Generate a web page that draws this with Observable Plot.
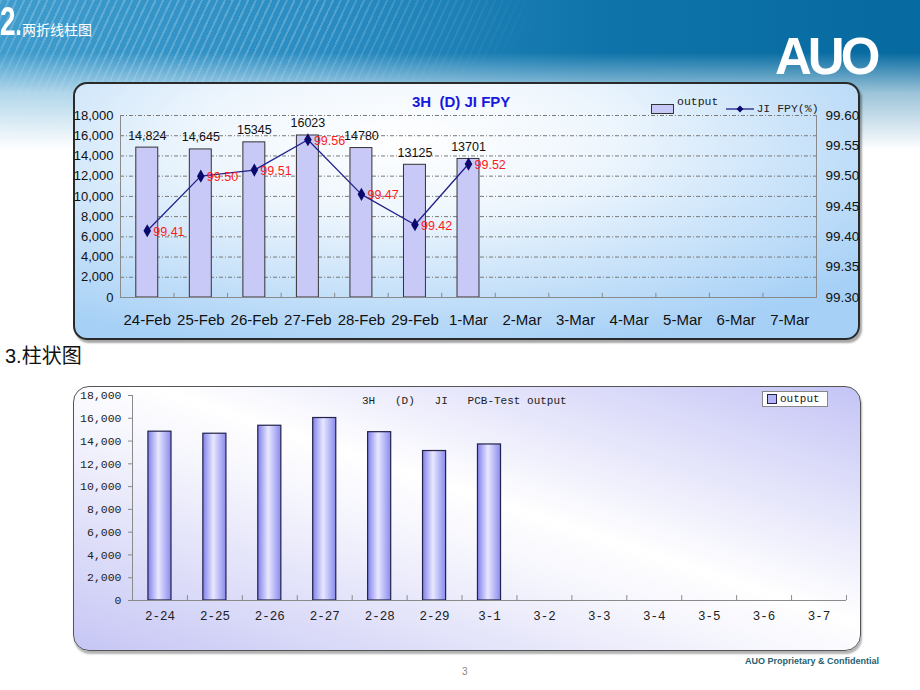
<!DOCTYPE html>
<html><head><meta charset="utf-8">
<script src="https://cdn.jsdelivr.net/npm/d3@7"></script>
<script src="https://cdn.jsdelivr.net/npm/@observablehq/plot@0.6"></script>
<style>
html,body{margin:0;padding:0;}
body{width:920px;height:690px;position:relative;overflow:hidden;background:#fff;font-family:"Liberation Sans",Arial,sans-serif;}
.abs{position:absolute;}
svg{overflow:visible;}
#header{left:0;top:0;width:920px;height:150px;
 background:linear-gradient(180deg,rgba(255,255,255,0) 0%,rgba(255,255,255,0) 35%,rgba(255,255,255,0.6) 62%,#fff 100%),
 linear-gradient(90deg,#3f9ccd 0%,#2a8cc2 35%,#0f74aa 65%,#066aa0 100%);}
#stripes{left:0;top:0;width:700px;height:150px;
 background:repeating-linear-gradient(115deg,rgba(255,255,255,0.2) 0 2px,rgba(255,255,255,0) 2px 7px);
 -webkit-mask-image:radial-gradient(ellipse 70% 90% at 25% 10%,#000 30%,transparent 75%);
 mask-image:radial-gradient(ellipse 70% 90% at 25% 10%,#000 30%,transparent 75%);}
#panel1{left:73px;top:82px;width:783px;height:254px;border:2px solid #2a2a2a;border-radius:14px;
 background:radial-gradient(ellipse 75% 85% at 42% 22%,#ffffff 0%,#eef6fd 35%,#a6d0f6 100%);
 box-shadow:2px 3px 2px rgba(0,0,0,0.35);}
#panel2{left:73px;top:386px;width:786px;height:263px;border:1.5px solid #555;border-radius:16px;
 background:linear-gradient(to top right,#c6c6f5 0%,#f4f4fd 42%,#ffffff 55%,#c4c4f6 100%);
 box-shadow:1px 3px 2px rgba(0,0,0,0.3);}
#chart1{left:73px;top:82px;}
#chart2{left:73px;top:386px;}
.mono{font-family:"Liberation Mono","DejaVu Sans Mono",monospace;}
</style></head>
<body>
<div id="header" class="abs"></div>
<div id="stripes" class="abs"></div>
<div class="abs" style="left:0;top:1px;color:#fff;font-weight:bold;font-size:40px;line-height:40px;transform:scaleX(0.7);transform-origin:0 0;">2<span style="font-size:32px;">.</span></div>
<div class="abs" style="left:22px;top:20px;color:#fff;font-size:14px;font-family:'Noto Sans CJK SC';line-height:18px;">两折线柱图</div>
<div class="abs" style="left:775px;top:29px;color:#fff;font-weight:bold;font-size:51px;letter-spacing:-4px;line-height:56px;">AUO</div>
<div id="panel1" class="abs"></div>
<div id="panel2" class="abs"></div>
<div id="chart1" class="abs"></div>
<div id="chart2" class="abs"></div>
<div class="abs" style="left:412px;top:93px;color:#1818e0;font-weight:bold;font-size:15px;white-space:pre;line-height:18px;">3H  (D) JI FPY</div>
<div class="abs mono" style="left:651px;top:95px;font-size:11.5px;color:#222;line-height:14px;white-space:pre;display:flex;align-items:center;">
 <span style="display:inline-block;width:21px;height:8px;background:#c9c9f7;border:1px solid #333;margin-right:3px;"></span>output
 <svg width="28" height="10" style="margin-left:8px;margin-right:2px"><line x1="0" y1="5" x2="28" y2="5" stroke="#20208a" stroke-width="1.3"/><path d="M14 1.5 L17.5 5 L14 8.5 L10.5 5Z" fill="#0a0a6e"/></svg>JI FPY(%)
</div>
<div class="abs" style="left:5px;top:342px;font-size:20px;color:#111;line-height:26px;">3.<span style="font-family:'Noto Sans CJK SC';">柱状图</span></div>
<div class="abs mono" style="left:362px;top:394px;font-size:11px;color:#222;white-space:pre;line-height:14px;">3H   (D)   JI   PCB-Test output</div>
<div class="abs mono" style="left:762px;top:391px;width:64px;height:14px;background:#fff;border:1px solid #888;font-size:11px;color:#222;line-height:14px;display:flex;align-items:center;">
 <span style="display:inline-block;width:8px;height:8px;background:#b4b4f6;border:1.3px solid #22224a;margin:0 3px 0 4px;"></span>output
</div>
<div class="abs" style="left:462px;top:666px;font-size:10px;color:#888;">3</div>
<div class="abs" style="left:745px;top:656px;font-size:9px;font-weight:bold;color:#1f5f73;white-space:nowrap;">AUO Proprietary &amp; Confidential</div>
<script>
// ---- data ----
const dates = ["24-Feb","25-Feb","26-Feb","27-Feb","28-Feb","29-Feb","1-Mar","2-Mar","3-Mar","4-Mar","5-Mar","6-Mar","7-Mar"];
const shortDates = ["2-24","2-25","2-26","2-27","2-28","2-29","3-1","3-2","3-3","3-4","3-5","3-6","3-7"];
const output = [14824,14645,15345,16023,14780,13125,13701];
const outputLabels = ["14,824","14,645","15345","16023","14780","13125","13701"];
const fpy = [99.41,99.50,99.51,99.56,99.47,99.42,99.52];
const leftTicks = [0,2000,4000,6000,8000,10000,12000,14000,16000,18000];
const fpyTicks = [99.30,99.35,99.40,99.45,99.50,99.55,99.60];

const yMax = 18000, fMin = 99.30, fMax = 99.60;
const toLeft = v => (v - fMin) / (fMax - fMin) * yMax;
const fromLeft = v => fMin + v / yMax * (fMax - fMin);

const rows = output.map((v, i) => ({date: dates[i], short: shortDates[i], output: v, label: outputLabels[i], fpy: fpy[i], fpyY: toLeft(fpy[i])}));

// ---- chart 1 ----
const w1 = 787, h1 = 258, ml1 = 47, mr1 = 44;
const step1 = (w1 - ml1 - mr1) / dates.length;
const c1 = Plot.plot({
  width: w1, height: h1, marginLeft: ml1, marginRight: mr1, marginTop: 33, marginBottom: 43,
  style: {background: "transparent", fontFamily: "Liberation Sans, Arial, sans-serif", color: "#111", overflow: "visible"},
  x: {domain: dates, paddingInner: 0.59, paddingOuter: 0.295, round: false, label: null},
  y: {domain: [0, yMax], label: null},
  marks: [
    Plot.gridY(leftTicks.slice(1), {stroke: "#7a7a7a", strokeOpacity: 1, strokeDasharray: "4,2,1,2"}),
    Plot.barY(rows, {x: "date", y: "output", fill: "#c9c9f7", stroke: "#333", strokeWidth: 1}),
    Plot.ruleY([0], {stroke: "#8a8a8a", strokeWidth: 1.2}),
    Plot.frame({anchor: "left", stroke: "#8a8a8a"}),
    Plot.frame({anchor: "right", stroke: "#8a8a8a"}),
    Plot.ruleX(dates.slice(0, -1), {x: d => d, dx: step1 / 2, y1: 0, y2: 420, stroke: "#8a8a8a"}),
    Plot.axisY(leftTicks, {anchor: "left", tickSize: 0, tickPadding: 7, fontSize: 13, tickFormat: d3.format(",")}),
    Plot.axisY(fpyTicks.map(toLeft), {anchor: "right", tickSize: 0, tickPadding: 9, fontSize: 13.5, tickFormat: d => fromLeft(d).toFixed(2)}),
    Plot.axisX({tickSize: 0, tickPadding: 17, fontSize: 15}),
    Plot.line(rows, {x: "date", y: "fpyY", stroke: "#20208a", strokeWidth: 1.3}),
    Plot.dot(rows, {x: "date", y: "fpyY", symbol: "diamond", r: 4, fill: "#0a0a6e", stroke: null}),
    Plot.text(rows, {x: "date", y: "output", text: "label", lineAnchor: "bottom", dy: -8, fontSize: 12.5, fill: "#111"}),
    Plot.text(rows, {x: "date", y: "fpyY", text: d => d.fpy.toFixed(2), textAnchor: "start", dx: 6, dy: 1, fontSize: 12.5, fill: "#ff1a1a"})
  ]
});
document.getElementById("chart1").append(c1);

// ---- chart 2 ----
const w2 = 789, h2 = 266, ml2 = 59, mr2 = 16;
const step2 = (w2 - ml2 - mr2) / shortDates.length;
const c2 = Plot.plot({
  width: w2, height: h2, marginLeft: ml2, marginRight: mr2, marginTop: 9, marginBottom: 52,
  style: {background: "transparent", fontFamily: "Liberation Mono, DejaVu Sans Mono, monospace", color: "#222", overflow: "visible"},
  x: {domain: shortDates, paddingInner: 0.58, paddingOuter: 0.29, round: false, label: null},
  y: {domain: [0, yMax], label: null},
  marks: [
    Plot.barY(rows, {x: "short", y: "output", fill: "url(#barGrad2)", stroke: "#22224a", strokeWidth: 1.2}),
    Plot.ruleY([0], {stroke: "#8a8a8a", strokeWidth: 1.2}),
    Plot.frame({anchor: "left", stroke: "#8a8a8a"}),
    Plot.ruleX(shortDates, {x: d => d, dx: step2 / 2, y1: 0, y2: 430, stroke: "#8a8a8a"}),
    Plot.axisY(leftTicks, {anchor: "left", tickSize: 4, tickPadding: 7, fontSize: 11.5, stroke: "#8a8a8a", tickFormat: d3.format(",")}),
    Plot.axisX({tickSize: 0, tickPadding: 11, fontSize: 12.5})
  ]
});
d3.select(c2).insert("defs", ":first-child").html(
  '<linearGradient id="barGrad2" x1="0" x2="1" y1="0" y2="0">' +
  '<stop offset="0" stop-color="#8080ec"/><stop offset="0.45" stop-color="#e8e8ff"/><stop offset="1" stop-color="#8a8aee"/></linearGradient>');
document.getElementById("chart2").append(c2);
</script>
</body></html>
